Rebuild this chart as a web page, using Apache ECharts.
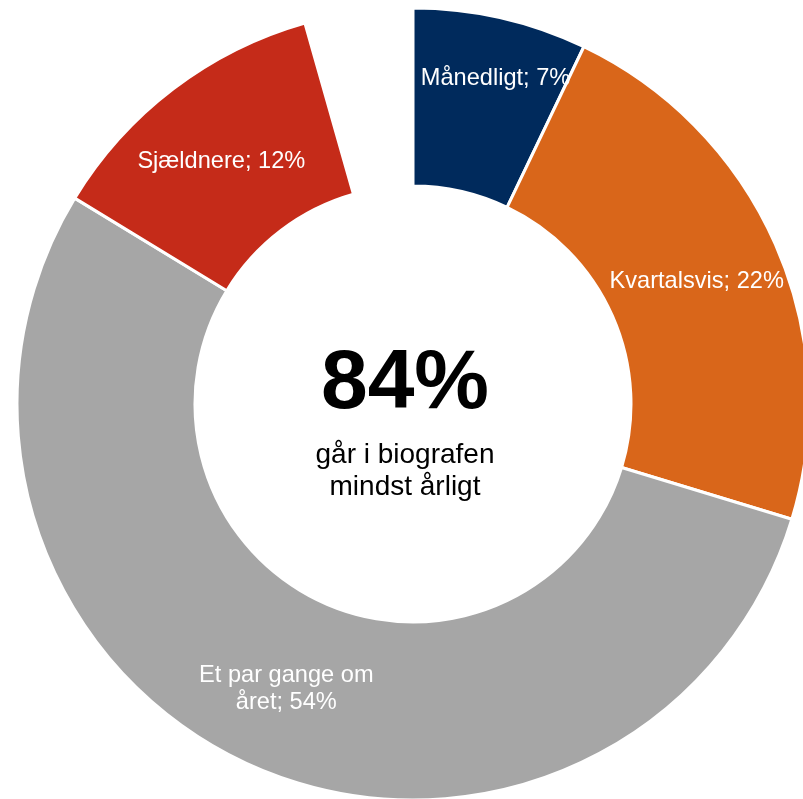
<!DOCTYPE html>
<html>
<head>
<meta charset="utf-8">
<script src="https://cdn.jsdelivr.net/npm/echarts@6/dist/echarts.min.js"></script>
<style>
html,body{margin:0;padding:0;background:#fff;}
#chart{width:803px;height:799px;}
</style>
</head>
<body>
<div id="chart"></div>
<script>
// Categories and values
const categories = ['Månedligt', 'Kvartalsvis', 'Et par gange om\nåret', 'Sjældnere', 'Aldrig'];
const values = [7.1, 22.6, 54.0, 11.9, 4.4];          // slice sizes (last slice is hidden)
const labelPercents = [7, 22, 54, 12, null];           // percentages as printed
const colors = ['#002A5C', '#D9661A', '#A6A6A6', '#C52B19', 'rgba(0,0,0,0)'];
const centerBig = '84%';
const centerSmall = 'går i biografen\nmindst årligt';

const chart = echarts.init(document.getElementById('chart'));
const FONT = '"Liberation Sans", Arial, sans-serif';

const data = categories.map((c, i) => {
  const hidden = labelPercents[i] === null;
  return {
    name: c,
    value: values[i],
    itemStyle: { color: colors[i], borderWidth: hidden ? 0 : 3, borderColor: '#fff' },
    label: { show: !hidden },
    emphasis: { disabled: true },
    silent: hidden
  };
});

chart.setOption({
  animation: false,
  backgroundColor: '#fff',
  series: [{
    type: 'pie',
    center: [413, 404],
    radius: [218, 396],
    startAngle: 90,
    clockwise: true,
    avoidLabelOverlap: false,
    data: data,
    label: {
      show: true,
      position: 'inside',
      color: '#fff',
      fontFamily: FONT,
      fontSize: 23.6,
      lineHeight: 27,
      align: 'center',
      formatter: p => p.name + '; ' + labelPercents[p.dataIndex] + '%'
    },
    labelLine: { show: false },
    labelLayout: function (params) {
      if (params.dataIndex === 0) return { dx: 14, dy: -23 };
      if (params.dataIndex === 1) return { dy: 2 };
      if (params.dataIndex === 2) return { dy: 2 };
      if (params.dataIndex === 3) return { dx: -4, dy: 4 };
      return {};
    }
  }],
  graphic: [
    {
      type: 'text',
      x: 405, y: 385,
      style: {
        text: centerBig,
        fill: '#000',
        font: 'bold 84px ' + FONT,
        align: 'center',
        verticalAlign: 'middle'
      }
    },
    {
      type: 'text',
      x: 405, y: 471,
      style: {
        text: centerSmall,
        fill: '#000',
        font: '28px ' + FONT,
        lineHeight: 32,
        align: 'center',
        verticalAlign: 'middle'
      }
    }
  ]
});
</script>
</body>
</html>
